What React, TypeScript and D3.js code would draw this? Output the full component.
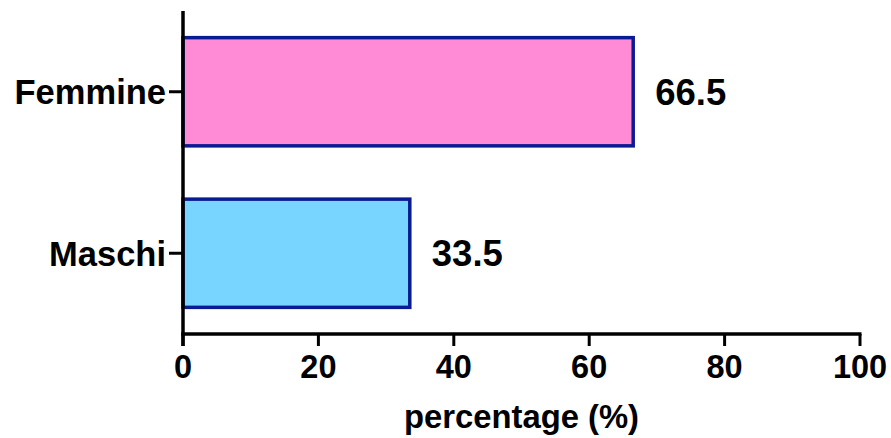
import React from "react";
import * as d3 from "d3";

const categories = ["Femmine", "Maschi"];
const values = [66.5, 33.5];
const valueLabels = ["66.5", "33.5"];
const fills = ["#FF8AD6", "#78D5FF"];
const xTicks = [0, 20, 40, 60, 80, 100];
const xTitle = "percentage (%)";

const W = 891;
const H = 438;
const left = 183;
const right = 860;
const top = 11;
const bottom = 334;
const font = "'Liberation Sans', Arial, sans-serif";

export default function App() {
  const x = d3.scaleLinear().domain([0, 100]).range([left, right]);
  const y = d3
    .scaleBand<string>()
    .domain(categories)
    .range([top, bottom])
    .paddingInner(0.33)
    .paddingOuter(0.165);

  return (
    <svg
      width={W}
      height={H}
      style={{ position: "absolute", left: 0, top: 0, background: "#fff" }}
      fontFamily={font}
      fontWeight="bold"
    >
      {categories.map((c, i) => {
        const y0 = y(c)!;
        const bw = y.bandwidth();
        return (
          <g key={c}>
            <rect
              x={x(0)}
              y={y0}
              width={x(values[i]) - x(0)}
              height={bw}
              fill={fills[i]}
              stroke="#0A1A92"
              strokeWidth={3.5}
            />
            <text
              x={x(values[i]) + 22}
              y={y0 + bw / 2}
              dy="0.36em"
              fontSize={36.5}
              fill="#000"
            >
              {valueLabels[i]}
            </text>
            <line
              x1={left - 14}
              x2={left}
              y1={y0 + bw / 2}
              y2={y0 + bw / 2}
              stroke="#000"
              strokeWidth={3}
            />
            <text
              x={left - 17}
              y={y0 + bw / 2}
              dy="0.36em"
              textAnchor="end"
              fontSize={34.5}
              fill="#000"
            >
              {c}
            </text>
          </g>
        );
      })}
      {/* y axis */}
      <line x1={left} x2={left} y1={top} y2={bottom + 12} stroke="#000" strokeWidth={3.5} />
      {/* x axis */}
      <line x1={left - 1.75} x2={right + 1.5} y1={bottom} y2={bottom} stroke="#000" strokeWidth={3.5} />
      {xTicks.map((t) => (
        <g key={t}>
          <line x1={x(t)} x2={x(t)} y1={bottom} y2={bottom + 12} stroke="#000" strokeWidth={3} />
          <text x={x(t)} y={378} textAnchor="middle" fontSize={32.5} fill="#000">
            {t}
          </text>
        </g>
      ))}
      <text x={(left + right) / 2} y={428} textAnchor="middle" fontSize={32.8} fill="#000">
        {xTitle}
      </text>
    </svg>
  );
}
